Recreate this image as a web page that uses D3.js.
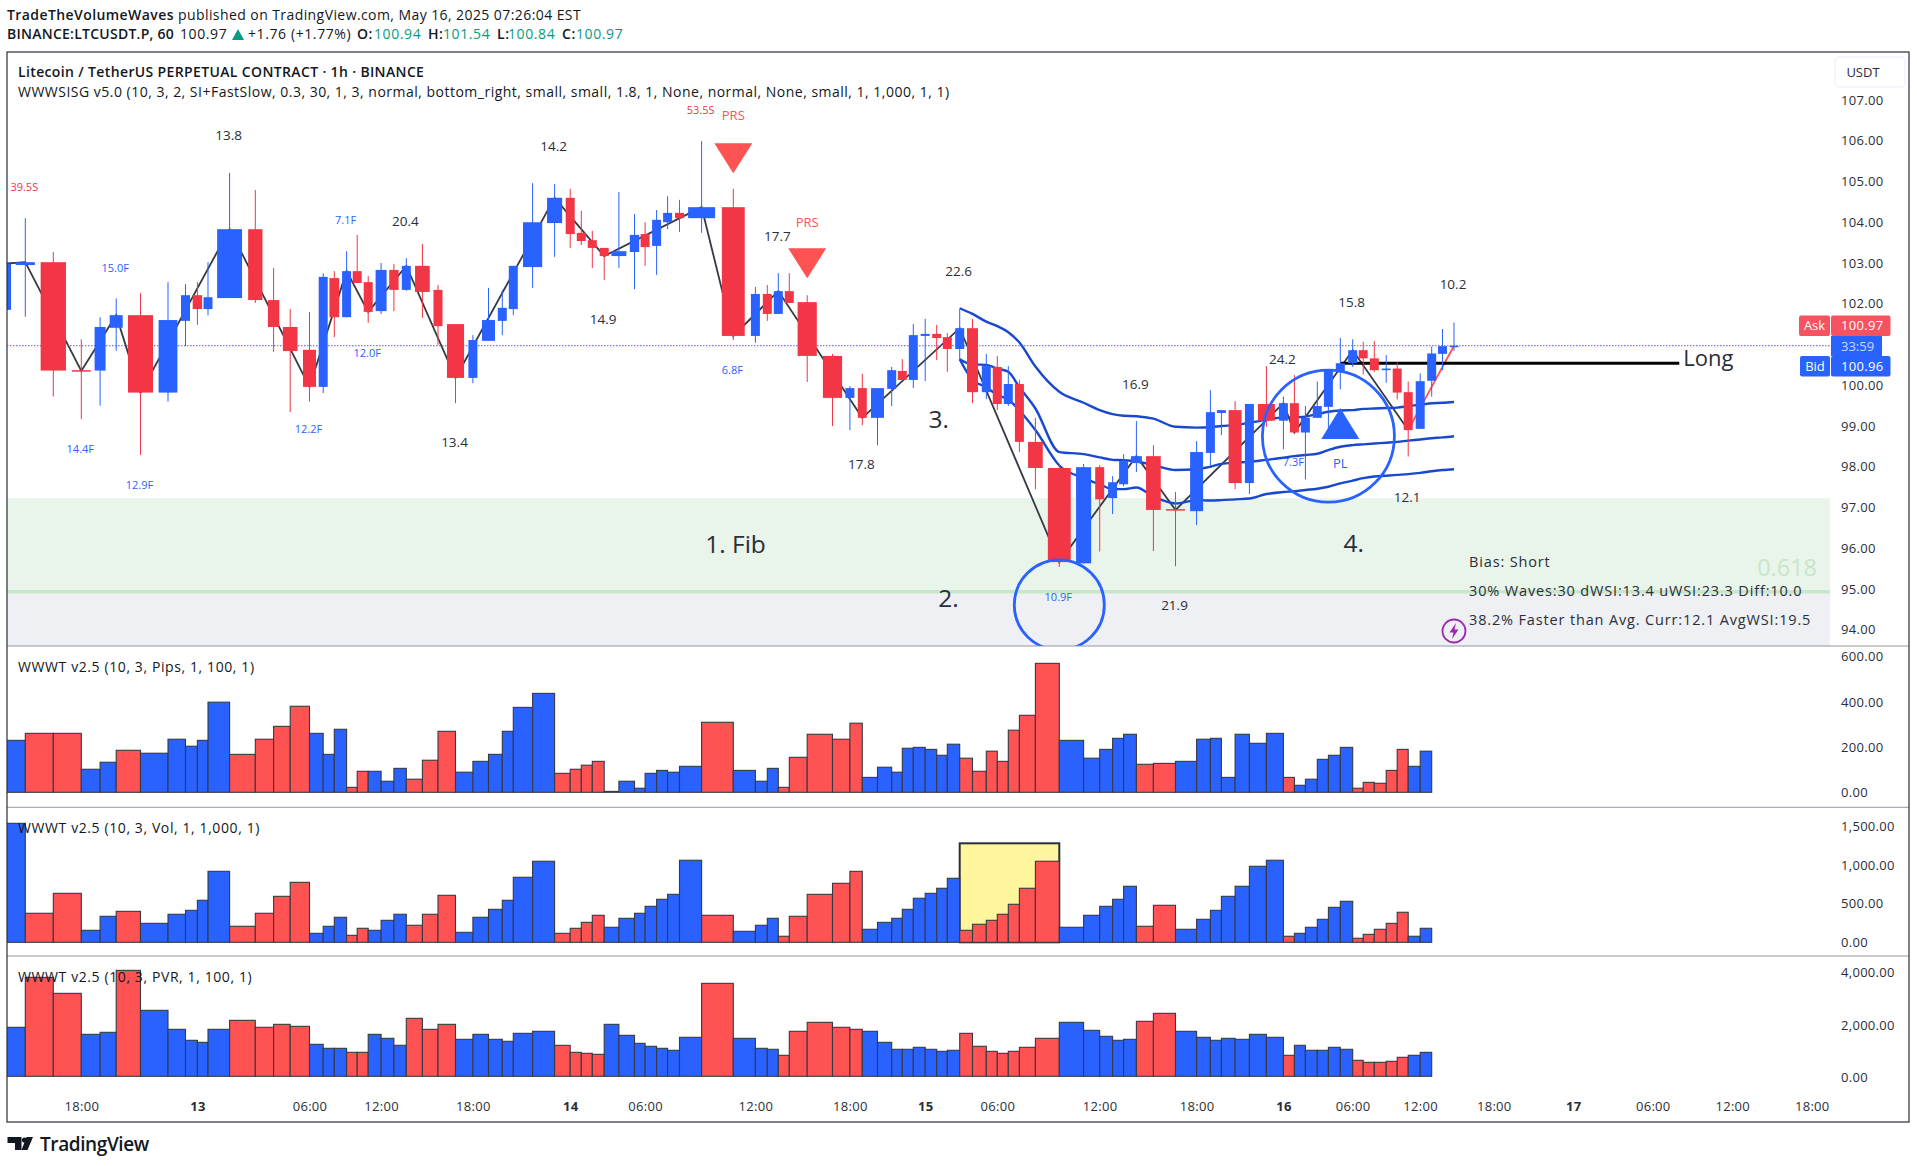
<!DOCTYPE html>
<html>
<head>
<meta charset="utf-8">
<script src="https://cdn.jsdelivr.net/npm/d3@7"></script>
<style>
  html, body { margin: 0; padding: 0; background: #fff; }
  svg { display: block; }
  text { font-family: 'Open Sans', sans-serif; }
</style>
</head>
<body>
<div id="root"></div>
<script>
// candles, one entry per 1h bar
const opens = [101.85,102.95,103.02,100.37,100.36,101.41,101.72,99.82,101.58,102.21,101.87,102.14,103.83,102.09,101.43,100.87,99.96,102.63,101.67,102.80,102.53,101.82,102.83,102.34,102.93,102.34,101.50,100.18,101.09,101.58,101.87,102.90,103.98,104.60,103.74,103.56,103.37,103.17,103.27,103.71,103.42,104.00,104.23,104.10,104.37,101.21,102.24,101.75,102.31,102.04,100.72,99.69,99.93,99.20,99.91,100.35,100.13,101.21,101.26,101.18,100.89,101.40,99.83,100.45,99.54,100.03,98.61,97.97,95.63,97.99,97.23,97.57,98.09,98.26,96.96,96.91,98.34,99.32,99.39,97.60,99.54,99.13,99.56,98.84,99.20,99.47,100.32,100.54,100.86,100.66,100.37,100.41,99.83,98.93,100.11,100.77,100.94];
const highs = [103.10,104.10,103.27,101.13,101.67,102.13,102.26,102.53,102.48,102.53,103.02,105.21,104.79,102.88,101.87,101.80,102.75,102.80,103.29,103.69,102.68,103.00,102.98,103.12,103.47,102.46,101.50,101.23,102.39,102.34,102.93,104.96,104.94,104.82,104.28,103.79,103.37,104.74,104.20,104.00,104.30,104.64,104.55,105.99,104.82,102.41,102.46,102.75,102.75,102.21,100.77,99.98,100.28,99.93,100.45,100.64,101.50,101.63,101.48,101.28,101.87,101.63,100.77,100.72,100.47,100.13,99.20,98.04,98.07,98.04,97.77,98.31,99.12,98.53,97.38,98.63,99.88,99.39,99.61,99.54,100.47,99.72,100.25,99.49,100.09,100.36,101.16,101.13,101.07,101.09,100.74,100.56,100.09,100.29,100.95,101.38,101.54];
const lows = [101.60,101.68,99.72,99.17,99.50,100.85,98.29,99.60,100.96,101.48,101.72,102.14,102.02,100.82,99.34,99.60,99.81,101.18,101.67,102.51,101.53,101.75,101.82,102.32,101.65,100.99,99.56,100.05,101.09,101.23,101.72,102.39,103.15,103.37,103.44,102.88,102.58,102.88,102.36,102.93,102.71,103.83,103.76,103.74,101.11,101.04,101.58,101.75,102.02,100.08,99.00,98.90,99.02,98.53,99.49,100.13,99.93,100.10,100.62,100.33,100.62,99.56,99.66,99.39,99.49,98.36,97.45,95.54,95.63,95.92,96.84,97.52,97.87,95.93,95.56,96.57,98.03,98.78,97.45,97.33,98.98,98.43,98.84,97.69,99.20,98.71,99.90,100.45,100.27,100.33,100.06,99.65,98.25,98.93,99.72,100.37,100.84];
const closes = [102.98,103.02,100.36,100.35,101.43,101.72,99.82,101.60,102.21,101.87,102.16,103.83,102.09,101.43,100.84,99.96,102.66,101.67,102.80,102.51,101.80,102.83,102.34,102.93,102.29,101.45,100.18,101.11,101.60,101.90,102.93,104.00,104.60,103.71,103.54,103.37,103.17,103.29,103.69,103.39,104.06,104.23,104.10,104.37,101.21,102.24,101.75,102.31,102.02,100.72,99.69,99.93,99.20,99.93,100.37,100.13,101.23,101.26,101.16,100.89,101.40,99.83,100.47,99.54,100.03,98.61,97.97,95.66,97.99,97.20,97.62,98.14,98.26,96.94,96.94,98.36,99.34,99.39,97.60,99.54,99.13,99.56,98.84,99.20,99.49,100.36,100.54,100.86,100.66,100.37,100.41,99.82,98.90,100.10,100.78,100.96,100.97];

// volume weighted spacing between one bar and the next, and candle body widths
const barWeight = [22.3,28,28,18.8,16.1,24.3,27.5,17.5,11.9,10.6,21.6,25.7,18.3,16.6,19.3,13.7,11.1,12.3,10.6,11,12.9,12.8,12.4,16.1,15.6,17.5,17.4,15.6,13.8,11,19.3,22,15.6,11.1,11,11.9,14.7,15.6,10.6,11.5,11,11.9,22.1,31.7,22.1,11.9,11,11,17.9,25.3,17.4,12.4,15.2,14.2,10.6,11,11.9,11.5,10.6,12.4,12.8,13.8,11,11,11.1,16,23.9,24.3,16.1,12.9,11,12.8,17,22.1,21.1,13.8,11,13.7,14.3,17,17,11,11,11.9,11.1,11.9,12.4,10.5,11.1,11.9,11,11,12,11.5,10.8,11.5];
const bodyWeight = [16,19.2,25.3,18.8,11,13,25,18.8,9,9.4,9,24.9,14.3,11.4,14.7,13,9,9.8,9,9,9,11,9.4,9,14.7,9,17.1,9,13,9,9,19.2,15.1,9,9,9,9,15,9.4,9,9,9,9,27,22.9,9,9,9,9,19.2,19.2,9,9,13,9,9,9,9,9,9,9,11,9,9,9,9,14.7,22.9,15.1,9,9,9,11,14.7,19,13,9,9,13,9,17,9,9,9,9,9,9,9,9,9,9,9,9,9,9,9,9];
const futureBars = 28;
const futureWeight = 13.25;

// wave histograms, one value per bar, 1 = up wave and 0 = down wave
const waveUp = [1,0,0,1,1,0,1,1,1,1,1,0,0,0,0,1,1,1,0,0,1,1,1,0,0,0,1,1,1,1,1,1,0,0,0,0,1,1,1,1,1,1,1,0,1,1,1,0,0,0,0,0,1,1,1,1,1,1,1,1,0,0,0,0,0,0,0,1,1,1,1,1,0,0,1,1,1,1,1,1,1,0,1,1,1,1,1,0,0,0,0,0,1,1];
const pipsValues = [230,261,261,102,133,186,173,235,204,230,399,168,235,292,381,261,168,279,22,93,93,49,106,58,142,270,89,137,168,270,376,438,84,102,120,137,4,49,18,84,97,89,115,310,97,49,106,22,155,257,235,306,66,111,89,195,199,190,164,213,151,93,182,137,275,341,571,230,151,190,239,257,124,128,137,235,239,66,257,217,261,66,31,58,146,164,199,18,44,40,97,190,115,182];
const volValues = [1537,375,633,155,336,400,245,362,413,543,917,207,375,594,775,116,207,323,90,181,155,284,362,220,362,607,129,323,426,543,840,1047,116,181,258,349,194,310,375,465,556,620,1060,349,142,220,310,78,336,620,762,917,168,258,310,426,569,633,698,827,155,233,284,362,491,698,1047,194,349,465,556,724,207,478,168,297,413,594,724,982,1060,78,116,194,297,452,530,52,103,168,245,388,78,181];
const pvrValues = [1873,3784,3172,1605,1682,4051,2523,1796,1376,1299,1796,2140,1873,1987,1911,1223,1070,1070,917,917,1605,1452,1185,2217,1796,1987,1414,1605,1414,1338,1643,1720,1185,917,879,841,1987,1567,1261,1147,1070,994,1491,3554,1452,1070,1032,803,1720,2064,1873,1796,1720,1299,1032,1032,1108,1032,955,994,1643,1147,955,879,955,1108,1452,2064,1758,1529,1376,1414,2102,2408,1720,1491,1376,1452,1414,1605,1491,803,1185,994,994,1108,1032,611,535,535,573,726,803,917];

// zigzag pivots, bar numbers
const pivotBars = [0,1,3,5,6,11,15,18,20,23,26,32,36,43,44,47,52,60,67,72,74,81,82,87,92];
const lastPivotBar = 96;

// bands start at bar 60
const bandStart = 60;
const bandUpper = [101.89,101.75,101.56,101.45,101.30,101.05,100.46,99.84,99.57,99.39,99.29,99.25,99.24,99.18,98.98,98.96,98.97,99.00,99.02,99.08,99.15,99.21,99.21,99.23,99.29,99.35,99.38,99.39,99.42,99.43,99.44,99.45,99.49,99.52,99.56,99.57,99.59];
const bandMiddle = [100.64,100.51,100.50,100.41,100.33,99.95,99.43,98.36,98.31,98.23,98.17,98.16,98.13,98.04,97.92,97.94,98.00,98.07,98.10,98.12,98.17,98.22,98.26,98.29,98.32,98.41,98.49,98.53,98.55,98.57,98.59,98.61,98.64,98.67,98.70,98.72,98.75];
const bandLower = [100.64,100.13,99.95,99.76,99.65,99.38,98.90,98.03,97.72,97.57,97.45,97.45,97.49,97.27,97.10,97.18,97.17,97.18,97.20,97.22,97.33,97.38,97.40,97.43,97.46,97.51,97.59,97.66,97.72,97.76,97.78,97.80,97.82,97.85,97.89,97.92,97.94];

// wave labels: text, bar, price, kind
const waveLabels = [
  ['13.8',11,106.14,'d'],['14.2',32,105.87,'d'],['39.5S',1,104.85,'s'],['15.0F',5,102.88,'f'],
  ['7.1F',18,104.06,'f'],['20.4',23,104.03,'d'],['12.0F',20,100.80,'f'],['14.9',36,101.63,'d'],
  ['14.4F',3,98.44,'f'],['12.9F',6,97.54,'f'],['12.2F',15,98.93,'f'],['13.4',26,98.59,'d'],
  ['53.5S',43,106.74,'s'],['6.8F',44,100.38,'f'],['17.7',47,103.66,'d'],['22.6',60,102.80,'d'],
  ['17.8',52,98.06,'d'],['16.9',72,100.03,'d'],['24.2',81,100.63,'d'],['15.8',87,102.04,'d'],
  ['10.2',96,102.48,'d'],['21.9',74,94.61,'d'],['10.9F',67,94.80,'f'],['7.3F',82,98.12,'f'],['12.1',92,97.24,'d']
];
const notes = [['1. Fib',44.1,96.10],['2.',59.1,94.78],['3.',58.2,99.15],['4.',87.1,96.13]];

// 101.00 sits behind the countdown tag, so it is left out
const priceTicks = [94,95,96,97,98,99,100,102,103,104,105,106,107];
const pipsTicks = [0,200,400,600];
const volTicks = [0,500,1000,1500];
const pvrTicks = [0,2000,4000];
const timeTickBars = [3,9,15,21,27,33,39,45,51,57,63,69,75,81,87,93,99,105,111,117,123];
const timeTickLabels = ['18:00','13','06:00','12:00','18:00','14','06:00','12:00','18:00','15','06:00','12:00','18:00','16','06:00','12:00','18:00','17','06:00','12:00','18:00'];

const fibTop = 97.23;
const fibLevel = 94.93;
const askPrice = 100.97;
const longPrice = 100.54;
const highlightLevel = 1279;

const red = '#f23645';
const histRed = '#ff5252';
const blue = '#2962ff';
const dark = '#2a2e39';
const frame = { left: 7, right: 1909, top: 52, bottom: 1122 };
const plotRight = 1830;

const svg = d3.select('#root').append('svg')
  .attr('width', 1917)
  .attr('height', 1166);

svg.append('rect').attr('width', 1917).attr('height', 1166).attr('fill', '#fff');

// bars are placed by cumulative weight, so the time axis is not even
let run = 0;
const barRuns = [0];
barWeight.forEach((w) => { run += w; barRuns.push(run); });
d3.range(futureBars).forEach(() => { run += futureWeight; barRuns.push(run); });
const runScale = d3.scaleLinear().domain([0, barRuns[96]]).range([3, 1454]);
const x = d3.scaleLinear().domain(d3.range(barRuns.length)).range(barRuns.map(runScale));
const bodyScale = d3.scaleLinear().domain([0, 30]).range([0, 30]);
const y = d3.scaleLinear().domain([107, 94]).range([100, 629.75]);

const defs = svg.append('defs');
defs.append('clipPath').attr('id', 'mainClip').append('rect')
  .attr('x', frame.left).attr('y', frame.top).attr('width', plotRight - frame.left).attr('height', 646 - frame.top);
defs.append('clipPath').attr('id', 'histClip').append('rect')
  .attr('x', frame.left).attr('y', 646).attr('width', plotRight - frame.left).attr('height', 480);

const main = svg.append('g').attr('clip-path', 'url(#mainClip)');

// fib zone
main.append('rect')
  .attr('x', frame.left).attr('width', plotRight - frame.left)
  .attr('y', y(fibTop)).attr('height', y(fibLevel) - y(fibTop))
  .attr('fill', '#e9f4ea');
main.append('rect')
  .attr('x', frame.left).attr('width', plotRight - frame.left)
  .attr('y', y(fibLevel)).attr('height', 646 - y(fibLevel))
  .attr('fill', '#eef0f4');
main.append('line')
  .attr('x1', frame.left).attr('x2', plotRight)
  .attr('y1', y(fibLevel)).attr('y2', y(fibLevel))
  .attr('stroke', '#c8e6c9').attr('stroke-width', 3.5);

// zigzag
const zigzag = d3.line().x((i) => x(i)).y((i) => y(closes[i]));
main.append('path')
  .attr('d', zigzag(pivotBars))
  .attr('fill', 'none').attr('stroke', '#363a45').attr('stroke-width', 1.8);
main.append('path')
  .attr('d', zigzag([pivotBars[pivotBars.length - 1], lastPivotBar]))
  .attr('fill', 'none').attr('stroke', histRed).attr('stroke-width', 1.8);

// ask and bid dotted lines
[[blue, 3], [red, 0]].forEach(([c, off]) => {
  main.append('line')
    .attr('x1', frame.left).attr('x2', plotRight)
    .attr('y1', y(askPrice)).attr('y2', y(askPrice))
    .attr('stroke', c).attr('stroke-width', 1)
    .attr('stroke-dasharray', '1.5 4.5').attr('stroke-dashoffset', off);
});

// long line
main.append('line')
  .attr('x1', x(86)).attr('x2', x(113))
  .attr('y1', y(longPrice)).attr('y2', y(longPrice))
  .attr('stroke', '#000').attr('stroke-width', 3);

// blue bands
const bandLine = d3.line().x((d, i) => x(bandStart + i)).y((d) => y(d)).curve(d3.curveMonotoneX);
[bandUpper, bandMiddle, bandLower].forEach((band) => {
  main.append('path')
    .attr('d', bandLine(band))
    .attr('fill', 'none').attr('stroke', '#1848cc').attr('stroke-width', 2.4);
});

// candles
const candles = main.append('g').selectAll('g').data(closes).enter().append('g')
  .attr('fill', (d, i) => (d >= opens[i] ? blue : red));
candles.append('rect')
  .attr('x', (d, i) => x(i) - 0.5)
  .attr('width', 1)
  .attr('y', (d, i) => y(highs[i]))
  .attr('height', (d, i) => y(lows[i]) - y(highs[i]));
candles.append('rect')
  .attr('x', (d, i) => x(i) - bodyScale(bodyWeight[i]) / 2)
  .attr('width', (d, i) => bodyScale(bodyWeight[i]))
  .attr('y', (d, i) => y(Math.max(d, opens[i])))
  .attr('height', (d, i) => Math.max(1.5, Math.abs(y(d) - y(opens[i]))));

// PRS and PL markers
[44, 49].forEach((bar, i) => {
  const top = y([105.94, 103.36][i]);
  main.append('path')
    .attr('d', `M${x(bar) - 19},${top}L${x(bar) + 19},${top}L${x(bar)},${top + 30}Z`)
    .attr('fill', histRed);
  main.append('text')
    .attr('x', x(bar)).attr('y', y([106.61, 104.0][i]))
    .attr('dy', '0.35em').attr('text-anchor', 'middle')
    .attr('font-size', 13).attr('fill', histRed)
    .text('PRS');
});
const plBase = y(98.68);
main.append('path')
  .attr('d', `M${x(86) - 19},${plBase}L${x(86) + 19},${plBase}L${x(86)},${plBase - 31}Z`)
  .attr('fill', blue);
main.append('text')
  .attr('x', x(86)).attr('y', y(98.07)).attr('dy', '0.35em').attr('text-anchor', 'middle')
  .attr('font-size', 13).attr('fill', blue).text('PL');

// circles drawn by hand on the chart
[[85, 98.75, 66], [67, 94.61, 45]].forEach(([bar, p, r]) => {
  main.append('circle')
    .attr('cx', x(bar)).attr('cy', y(p)).attr('r', r)
    .attr('fill', 'none').attr('stroke', blue).attr('stroke-width', 2.8);
});

// wave labels
main.append('g').selectAll('text').data(waveLabels).enter().append('text')
  .attr('x', (d) => x(d[1]) - 1)
  .attr('y', (d) => y(d[2]))
  .attr('dy', '0.35em')
  .attr('text-anchor', 'middle')
  .attr('font-size', (d) => (d[3] === 'd' ? 13.5 : 11))
  .attr('fill', (d) => (d[3] === 'd' ? dark : d[3] === 'f' ? blue : red))
  .text((d) => d[0]);

main.append('g').selectAll('text').data(notes).enter().append('text')
  .attr('x', (d) => x(d[1]))
  .attr('y', (d) => y(d[2]))
  .attr('dy', '0.35em')
  .attr('text-anchor', 'middle')
  .attr('font-size', 24.5)
  .attr('fill', dark)
  .text((d) => d[0]);

main.append('text')
  .attr('x', x(113.3)).attr('y', y(100.67)).attr('dy', '0.35em')
  .attr('font-size', 22).attr('fill', dark).text('Long');

main.append('text')
  .attr('x', x(123.4)).attr('y', y(95.52)).attr('dy', '0.35em').attr('text-anchor', 'end')
  .attr('font-size', 23.5).attr('fill', '#c8e6c9').text('0.618');

// bias table, sits in the bottom right corner of the main pane
[['Bias: Short', 562], ['30% Waves:30 dWSI:13.4 uWSI:23.3 Diff:10.0', 591], ['38.2% Faster than Avg. Curr:12.1 AvgWSI:19.5', 619.5]].forEach(([t, ty]) => {
  main.append('text').attr('x', 1469).attr('y', ty).attr('dy', '0.35em')
    .attr('font-size', 14.5).attr('letter-spacing', 0.85).attr('fill', dark).text(t);
});
main.append('circle').attr('cx', 1454).attr('cy', 631).attr('r', 11.5)
  .attr('fill', 'none').attr('stroke', '#9c27b0').attr('stroke-width', 1.8);
main.append('path').attr('d', 'M1456,623L1449.5,632.5L1453.5,632.5L1452,639L1458.5,629.5L1454.5,629.5Z').attr('fill', '#9c27b0');

// price axis
const priceAxis = d3.axisRight(y).tickValues(priceTicks).tickSize(0).tickPadding(0).tickFormat(d3.format('.2f'));
const styleAxis = (g) => {
  g.select('.domain').remove();
  g.selectAll('text').attr('font-size', 13).attr('letter-spacing', 0.3).attr('fill', dark).style('font-family', "'Open Sans', sans-serif");
};
svg.append('g').attr('transform', 'translate(1841,0)').call(priceAxis).call(styleAxis);

// USDT box
svg.append('rect').attr('x', 1835).attr('y', 57).attr('width', 70).attr('height', 30).attr('rx', 4)
  .attr('fill', '#fff').attr('stroke', '#f0f3fa').attr('stroke-width', 1.5);
svg.append('text').attr('x', 1863).attr('y', 72).attr('dy', '0.35em').attr('text-anchor', 'middle')
  .attr('font-size', 13).attr('fill', dark).text('USDT');

// ask, countdown, bid tags
const tags = [
  ['Ask', '100.97', 1799, 315.5, '#f7525f'],
  ['Bid', '100.96', 1800, 356, blue]
];
tags.forEach(([name, val, tx, ty, c]) => {
  svg.append('rect').attr('x', tx).attr('y', ty).attr('width', 1830 - tx).attr('height', 20.5).attr('rx', 2).attr('fill', c);
  svg.append('rect').attr('x', 1831).attr('y', ty).attr('width', 59.5).attr('height', 20.5).attr('rx', 2).attr('fill', c);
  svg.append('text').attr('x', (tx + 1830) / 2).attr('y', ty + 10.25).attr('dy', '0.35em').attr('text-anchor', 'middle')
    .attr('font-size', 13).attr('fill', '#fff').text(name);
  svg.append('text').attr('x', 1841).attr('y', ty + 10.25).attr('dy', '0.35em')
    .attr('font-size', 13).attr('letter-spacing', 0.3).attr('fill', '#fff').text(val);
});
svg.append('rect').attr('x', 1831).attr('y', 336).attr('width', 51).attr('height', 20).attr('fill', blue);
svg.append('text').attr('x', 1841).attr('y', 346).attr('dy', '0.35em')
  .attr('font-size', 13).attr('fill', '#c9d6ff').text('33:59');

// histogram panes
const hist = svg.append('g').attr('clip-path', 'url(#histClip)');
const paneY = (max, bottom, top) => d3.scaleLinear().domain([0, max]).range([bottom, top]);
const pipsY = paneY(600, 792.3, 656.8);
const volY = paneY(1500, 942.3, 826.2);
const pvrY = paneY(4000, 1076.3, 971.7);

// yellow box behind the volume bars
hist.append('rect')
  .attr('x', x(60)).attr('width', x(67) - x(60))
  .attr('y', volY(highlightLevel)).attr('height', volY(0) - volY(highlightLevel))
  .attr('fill', '#fff59d').attr('stroke', dark).attr('stroke-width', 2);

const panes = [
  [pipsValues, pipsY, pipsTicks, 0],
  [volValues, volY, volTicks, 0],
  [pvrValues, pvrY, pvrTicks, 1]
];
panes.forEach(([values, scale, ticks, nudge]) => {
  hist.append('g').selectAll('rect').data(values).enter().append('rect')
    .attr('x', (d, i) => x(i))
    .attr('width', (d, i) => x(i + 1) - x(i))
    .attr('y', (d) => scale(d))
    .attr('height', (d) => scale(0) - scale(d))
    .attr('fill', (d, i) => (waveUp[i] ? blue : histRed))
    .attr('stroke', '#363a45').attr('stroke-width', 1.1);
  const axis = d3.axisRight(scale).tickValues(ticks).tickSize(0).tickPadding(0).tickFormat(d3.format(',.2f'));
  svg.append('g').attr('transform', `translate(1841,${nudge})`).call(axis).call(styleAxis);
});

// time axis
const timeAxis = d3.axisBottom(x).tickValues(timeTickBars).tickSize(0).tickPadding(0)
  .tickFormat((d, i) => timeTickLabels[i]);
svg.append('g').attr('transform', 'translate(0,1101.5)').call(timeAxis).call((g) => {
  styleAxis(g);
  g.selectAll('text')
    .attr('font-weight', (d, i) => (timeTickLabels[i].length < 3 ? 700 : 400));
});

// pane separators and frame
[646, 807.3, 956].forEach((sy) => {
  svg.append('line').attr('x1', frame.left).attr('x2', frame.right).attr('y1', sy).attr('y2', sy)
    .attr('stroke', '#9598a1').attr('stroke-width', 1);
});
svg.append('rect')
  .attr('x', frame.left).attr('y', frame.top)
  .attr('width', frame.right - frame.left).attr('height', frame.bottom - frame.top)
  .attr('fill', 'none').attr('stroke', dark).attr('stroke-width', 1.2);

// legends
const legendLines = [
  ['Litecoin / TetherUS PERPETUAL CONTRACT · 1h · BINANCE', 72, 600, 0.36],
  ['WWWSISG v5.0 (10, 3, 2, SI+FastSlow, 0.3, 30, 1, 3, normal, bottom_right, small, small, 1.8, 1, None, normal, None, small, 1, 1,000, 1, 1)', 92, 400, 0.49],
  ['WWWT v2.5 (10, 3, Pips, 1, 100, 1)', 667, 400, 0.6],
  ['WWWT v2.5 (10, 3, Vol, 1, 1,000, 1)', 828.5, 400, 0.6],
  ['WWWT v2.5 (10, 3, PVR, 1, 100, 1)', 977, 400, 0.6]
];
legendLines.forEach(([t, ty, w, ls]) => {
  svg.append('text').attr('x', 18).attr('y', ty).attr('dy', '0.35em')
    .attr('font-size', 14).attr('font-weight', w).attr('letter-spacing', ls).attr('fill', '#131722').text(t);
});

// header
const head1 = svg.append('text').attr('x', 7).attr('y', 15).attr('dy', '0.35em').attr('font-size', 14)
  .attr('letter-spacing', 0.42).attr('fill', '#131722');
head1.append('tspan').attr('font-weight', 600).text('TradeTheVolumeWaves');
head1.append('tspan').text(' published on TradingView.com, May 16, 2025 07:26:04 EST');

const teal = '#089981';
const head2 = svg.append('text').attr('x', 7).attr('y', 34.5).attr('dy', '0.35em').attr('font-size', 14)
  .attr('letter-spacing', 0.6).attr('fill', '#131722');
head2.append('tspan').attr('font-weight', 600).attr('letter-spacing', 0.25).text('BINANCE:LTCUSDT.P, 60');
head2.append('tspan').attr('x', 180).text('100.97');
head2.append('tspan').attr('x', 248).text('+1.76 (+1.77%)');
head2.append('tspan').attr('x', 357).attr('font-weight', 600).text('O:');
head2.append('tspan').attr('x', 374).attr('fill', teal).text('100.94');
head2.append('tspan').attr('x', 428).attr('font-weight', 600).text('H:');
head2.append('tspan').attr('x', 443).attr('fill', teal).text('101.54');
head2.append('tspan').attr('x', 497).attr('font-weight', 600).text('L:');
head2.append('tspan').attr('x', 508).attr('fill', teal).text('100.84');
head2.append('tspan').attr('x', 562).attr('font-weight', 600).text('C:');
head2.append('tspan').attr('x', 576).attr('fill', teal).text('100.97');
svg.append('path').attr('d', 'M232,40L238,29L244,40Z').attr('fill', teal);

// logo
const logo = svg.append('g').attr('fill', '#131722');
logo.append('path').attr('d', 'M7.5,1137L21.5,1137L21.5,1150L15,1150L15,1143L7.5,1143Z');
logo.append('circle').attr('cx', 24.5).attr('cy', 1140).attr('r', 2.6);
logo.append('path').attr('d', 'M26.5,1137L33,1137L27.5,1150L21.5,1150Z');
logo.append('text').attr('x', 40).attr('y', 1144).attr('dy', '0.35em')
  .attr('font-size', 19).attr('font-weight', 600).attr('letter-spacing', -0.4).text('TradingView');
</script>
</body>
</html>
